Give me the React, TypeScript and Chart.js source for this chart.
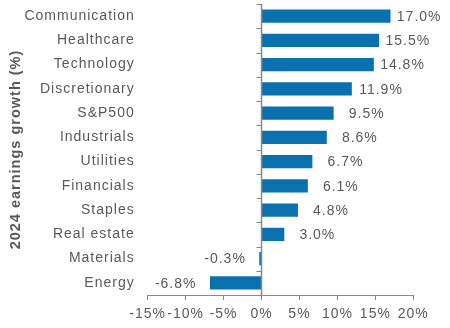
import React, { useEffect, useRef } from "react";
import { Chart, registerables } from "chart.js";

Chart.register(...registerables);

const categories = [
  "Communication",
  "Healthcare",
  "Technology",
  "Discretionary",
  "S&P500",
  "Industrials",
  "Utilities",
  "Financials",
  "Staples",
  "Real estate",
  "Materials",
  "Energy",
];
const growth = [17.0, 15.5, 14.8, 11.9, 9.5, 8.6, 6.7, 6.1, 4.8, 3.0, -0.3, -6.8];
const xMin = -15;
const xMax = 20;
const xStep = 5;
const yTitle = "2024 earnings growth (%)";

const FONT = "'Liberation Sans', Arial, sans-serif";
const TEXT = "#595959";
const AXIS = "#898989";
const BAR = "#0a70ae";

const spacingPlugin = {
  id: "spacing",
  beforeDraw(chart: any) {
    chart.ctx.letterSpacing = "1px";
  },
};

const zeroAxisPlugin = {
  id: "zeroAxis",
  afterDatasetsDraw(chart: any) {
    const { ctx, chartArea, scales } = chart;
    const x0 = scales.x.getPixelForValue(0);
    const n = categories.length;
    const step = (chartArea.bottom - chartArea.top) / n;
    ctx.save();
    ctx.strokeStyle = AXIS;
    ctx.lineWidth = 1.5;
    ctx.beginPath();
    ctx.moveTo(x0, chartArea.top);
    ctx.lineTo(x0, chartArea.bottom);
    ctx.stroke();
    ctx.lineWidth = 1;
    for (let i = 0; i < n; i++) {
      const y = Math.round(chartArea.top + i * step) + 0.5;
      ctx.beginPath();
      ctx.moveTo(x0 - 5, y);
      ctx.lineTo(x0, y);
      ctx.stroke();
    }
    ctx.restore();
  },
};

const labelPlugin = {
  id: "barLabels",
  afterDatasetsDraw(chart: any) {
    const { ctx } = chart;
    const meta = chart.getDatasetMeta(0);
    ctx.save();
    ctx.letterSpacing = "1px";
    ctx.font = `14px ${FONT}`;
    ctx.fillStyle = TEXT;
    ctx.textBaseline = "middle";
    meta.data.forEach((bar: any, i: number) => {
      const v = growth[i];
      const txt = v.toFixed(1) + "%";
      if (v >= 0) {
        ctx.textAlign = "right";
        ctx.fillText(txt, bar.x + 51, bar.y + 1);
      } else {
        ctx.textAlign = "left";
        ctx.fillText(txt, bar.x - 55, bar.y + 1);
      }
    });
    ctx.restore();
  },
};

export default function App() {
  const ref = useRef<HTMLCanvasElement>(null);

  useEffect(() => {
    if (!ref.current) return;
    const chart = new Chart(ref.current, {
      type: "bar",
      data: {
        labels: categories,
        datasets: [
          {
            data: growth,
            backgroundColor: BAR,
            borderWidth: 0,
            barPercentage: 0.55,
            categoryPercentage: 1,
          },
        ],
      },
      options: {
        indexAxis: "y",
        animation: false,
        responsive: true,
        maintainAspectRatio: false,
        layout: { padding: { top: 4, right: 36.7, bottom: 0, left: 0 } },
        plugins: {
          legend: { display: false },
          tooltip: { enabled: false },
        },
        scales: {
          x: {
            min: xMin,
            max: xMax,
            afterFit(scale: any) {
              scale.height = 33;
              scale.paddingLeft = 0;
              scale.paddingRight = 0;
              scale.paddingTop = 0;
              scale.paddingBottom = 0;
            },
            ticks: {
              stepSize: xStep,
              autoSkip: false,
              maxRotation: 0,
              minRotation: 0,
              padding: 6,
              color: TEXT,
              font: { family: FONT, size: 14 },
              callback: (v: any) => `${v}%`,
            },
            grid: {
              drawOnChartArea: false,
              drawTicks: true,
              tickLength: 5,
              tickColor: AXIS,
            },
            border: { display: true, color: AXIS, width: 1 },
          },
          y: {
            afterFit(scale: any) {
              scale.width = 147.7;
              scale.paddingLeft = 0;
              scale.paddingRight = 0;
              scale.paddingTop = 0;
              scale.paddingBottom = 0;
            },
            ticks: {
              color: TEXT,
              padding: 13,
              autoSkip: false,
              font: { family: FONT, size: 14 },
            },
            grid: { display: false, drawTicks: false },
            border: { display: false },
            title: {
              display: true,
              text: yTitle,
              color: TEXT,
              font: { family: FONT, size: 14.5, weight: "bold" },
              padding: { top: 7.5, bottom: 0 },
            },
          },
        },
      },
      plugins: [spacingPlugin, zeroAxisPlugin, labelPlugin],
    });
    return () => chart.destroy();
  }, []);

  return (
    <div style={{ position: "absolute", left: 0, top: 0, width: 450, height: 328 }}>
      <canvas ref={ref} />
    </div>
  );
}
